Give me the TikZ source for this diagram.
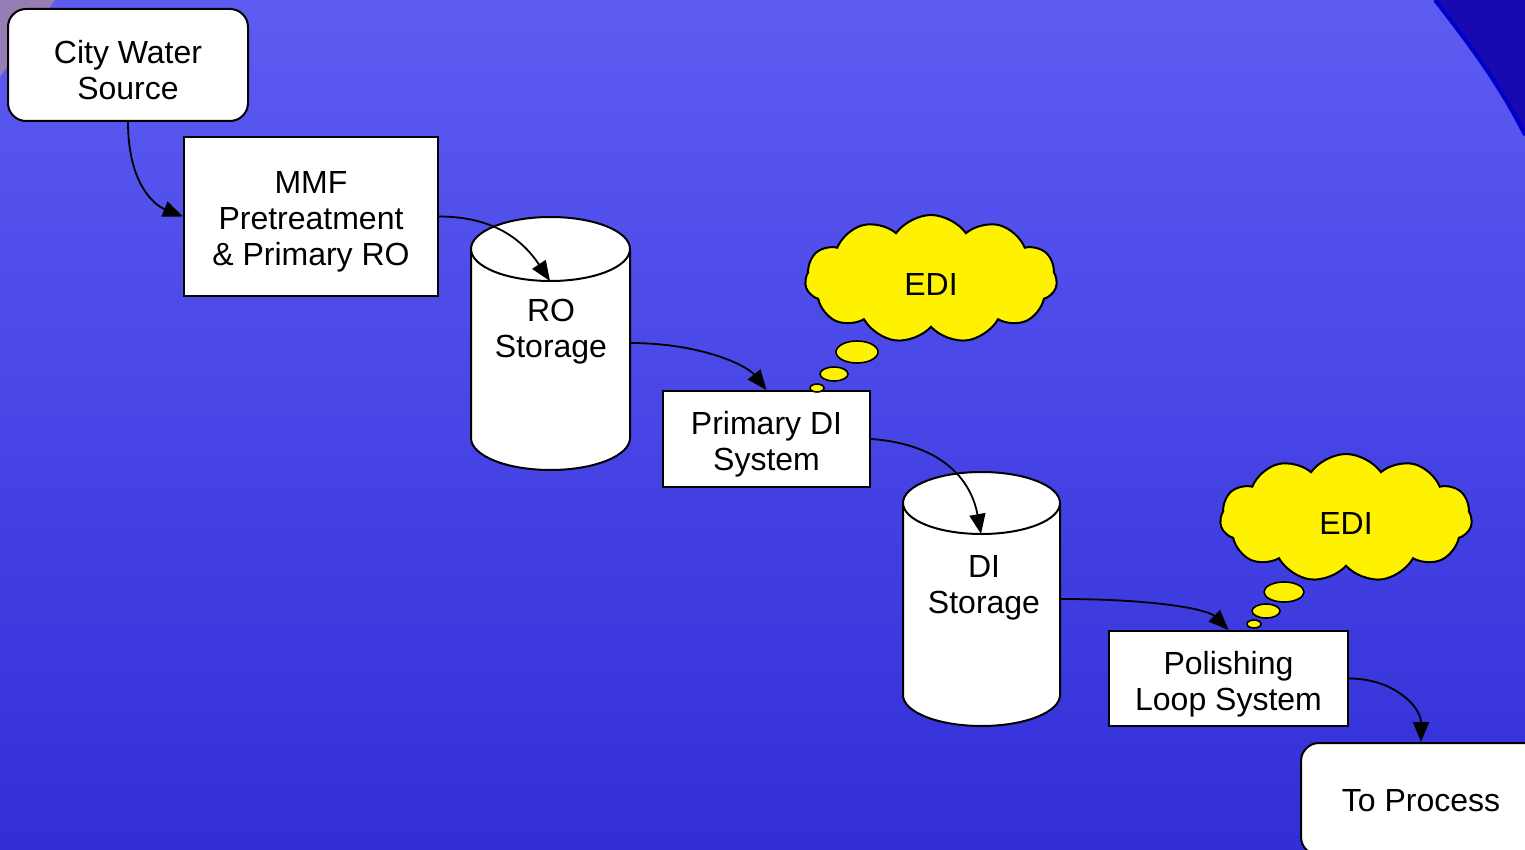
\documentclass[tikz,border=0pt]{standalone}
\usepackage{fontspec}
\setmainfont{Liberation Sans}
\usetikzlibrary{arrows.meta,shapes.symbols}

\definecolor{bgtop}{RGB}{92,92,242}
\definecolor{bgbot}{RGB}{50,46,216}
\definecolor{cornerdark}{RGB}{24,10,176}
\definecolor{edgeblue}{RGB}{0,0,204}
\definecolor{cornerpink}{RGB}{150,125,180}

\tikzset{
  every node/.style={font=\fontsize{16}{18}\selectfont, align=center},
  txt/.style={yshift=-2.75pt},
  endbox/.style={draw, fill=white, rounded corners=9pt, line width=1pt, minimum width=120pt, minimum height=56pt},
  procbox/.style={draw, fill=white, line width=1pt},
  tank/.style={draw, fill=white, line width=1pt},
  thought/.style={cloud, draw, fill=yellow, line width=1pt, cloud puffs=11, cloud puff arc=110, aspect=2, minimum width=126pt, minimum height=64pt},
  bubble/.style={draw, fill=yellow, line width=0.8pt},
  flow/.style={line width=0.9pt, -{Triangle[length=10pt,width=8pt]}}
}

\begin{document}
\begin{tikzpicture}[x=0.5pt,y=-0.5pt]
% background
\fill[top color=bgtop, bottom color=bgbot] (0,0) rectangle (1525,850);
\useasboundingbox (0,0) rectangle (1525,850);
\fill[cornerpink] (0,0) -- (55,0) -- (0,77) -- cycle;
\fill[cornerdark] (1435,0) .. controls (1470,45) and (1500,85) .. (1525,135) -- (1525,0) -- cycle;
\draw[edgeblue, line width=2pt] (1435,0) .. controls (1470,45) and (1500,85) .. (1525,135);

% boxes
\node[endbox, label={[txt, name=citytext]center:City Water\\Source}] (city) at (128,65) {};
\node[procbox, minimum width=127pt, minimum height=79.5pt,
  label={[txt, name=mmftext]center:MMF\\Pretreatment\\\& Primary RO}] (mmf) at (311,216.5) {};
\node[procbox, minimum width=103.5pt, minimum height=48pt,
  label={[txt, name=pditext]center:Primary DI\\System}] (pdi) at (766.5,439) {};
\node[procbox, minimum width=119.5pt, minimum height=47.5pt,
  label={[txt, name=poltext]center:Polishing\\Loop System}] (pol) at (1228.5,678.5) {};
\node[endbox, label={[yshift=-1pt, name=proctext]center:To Process}] (proc) at (1421,799) {};

% RO storage tank
\draw[tank] (471,249) -- (471,438) arc[start angle=180, end angle=0, x radius=79.5, y radius=32] -- (630,249);
\draw[tank] (550.5,249) ellipse[x radius=79.5, y radius=32];
\node (ro) at (551,332) {RO\\Storage};
\coordinate (roin) at (550,281);
\coordinate (roout) at (630,343);

% DI storage tank
\draw[tank] (903,503) -- (903,695) arc[start angle=180, end angle=0, x radius=78.5, y radius=31] -- (1060,503);
\draw[tank] (981.5,503) ellipse[x radius=78.5, y radius=31];
\node (di) at (984,588) {DI\\Storage};
\coordinate (diin) at (981,534);
\coordinate (diout) at (1060,599);

% EDI clouds
\node[thought, label={[txt, name=edi1text]center:EDI}] (edi1) at (931,279) {};
\draw[bubble] (857,352) ellipse[x radius=21, y radius=11];
\draw[bubble] (834,374) ellipse[x radius=14, y radius=7];
\draw[bubble] (817,388) ellipse[x radius=7, y radius=4];
\node[thought, label={[txt, name=edi2text]center:EDI}] (edi2) at (1346,518) {};
\draw[bubble] (1284,592) ellipse[x radius=20, y radius=10];
\draw[bubble] (1266,611) ellipse[x radius=14, y radius=7];
\draw[bubble] (1254,624) ellipse[x radius=7, y radius=4];

% flow
\draw[flow] (city.south) .. controls +(0,60) and +(-30,-12) .. (mmf.west);
\draw[flow] (mmf.east) .. controls +(50,0) and +(-30,-45) .. (roin);
\draw[flow] (roout) .. controls +(70,0) and +(-20,-25) .. (pdi.north);
\draw[flow] (pdi.east) .. controls +(70,5) and +(-10,-55) .. (diin);
\draw[flow] (diout) .. controls +(100,0) and +(-20,-20) .. (pol.north);
\draw[flow] (pol.east) .. controls +(45,0) and +(0,-35) .. (proc.north);
\end{tikzpicture}
\end{document}
